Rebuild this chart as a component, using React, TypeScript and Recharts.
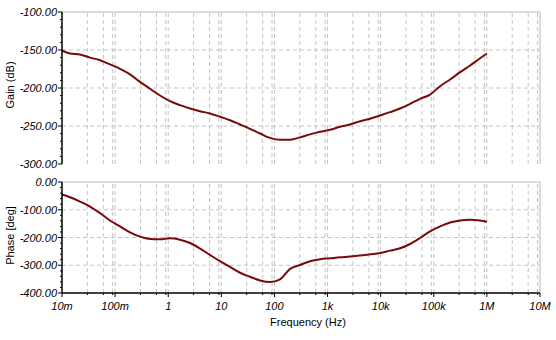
import React from 'react';
import { LineChart, Line, XAxis, YAxis, ReferenceLine, Label } from 'recharts';

// Frequency points (Hz)
const freqHz = [
  0.01, 0.0142, 0.0218, 0.0337, 0.052, 0.0802, 0.124, 0.191, 0.294, 0.454,
  0.701, 1.08, 1.67, 2.57, 3.97, 6.12, 9.46, 14.6, 22.5, 34.7,
  53.6, 82.6, 127, 197, 303, 468, 722, 1114, 1718, 2652,
  4092, 6313, 9741, 15030, 23190, 35780, 55200, 85170, 131400, 202800,
  312900, 482800, 744900, 1000000,
];

const gainDb = [
  -150.7, -154.6, -155.9, -160, -163.4, -169, -174.8, -182, -191.9, -201,
  -209.9, -217.3, -222.6, -227, -230.5, -233.6, -237.9, -242.4, -248, -253.7,
  -259.9, -265.6, -268.2, -268, -265, -261, -257.6, -255, -251, -248,
  -243.7, -240.5, -236.2, -231.8, -227, -220.8, -214.2, -208.6, -197.6, -188.8,
  -179.2, -170.4, -160.8, -154.6,
];

const phaseDeg = [
  -44.8, -55, -70.5, -88.4, -112, -138.6, -160, -181.6, -197, -205.5,
  -206.7, -203, -207.9, -219.8, -240, -262.9, -285.5, -306, -327, -341.6,
  -354.8, -360.8, -351, -313, -299, -285.5, -278.4, -275, -271.4, -268.8,
  -265.2, -260.5, -255.7, -247.3, -239, -223.4, -201.8, -178, -160, -145.8,
  -138.6, -136.1, -138.6, -143.4,
];

// Axis ticks
const decadeTicks = [0.01, 0.1, 1, 10, 100, 1000, 10000, 100000, 1000000, 10000000];
const decadeLabels = ['10m', '100m', '1', '10', '100', '1k', '10k', '100k', '1M', '10M'];
const minorMultipliers = [3, 6, 9];

const gainDomain = [-300, -100];
const gainMajor = [-300, -250, -200, -150, -100];
const gainMinorStep = 10;

const phaseDomain = [-400, 0];
const phaseMajor = [-400, -300, -200, -100, 0];
const phaseMinorStep = 20;

const data = freqHz.map((f, i) => ({ f, gain: gainDb[i], phase: phaseDeg[i] }));

const minorX: number[] = [];
decadeTicks.slice(0, -1).forEach((d) => minorMultipliers.forEach((m) => minorX.push(+(d * m).toPrecision(6))));
const allXTicks = [...decadeTicks, ...minorX].sort((a, b) => a - b);
const vGrid = [...minorX, ...decadeTicks.slice(1, -1)];

const range = (lo: number, hi: number, step: number) => {
  const out: number[] = [];
  for (let v = lo; v <= hi + 1e-9; v += step) out.push(v);
  return out;
};

const FONT = '"Liberation Sans", Arial, sans-serif';
const GRID = '#c4c4c4';
const LINE = '#780a0a';

const XTick = (props: any) => {
  const { x, y, payload } = props;
  const idx = decadeTicks.indexOf(payload.value);
  const major = idx >= 0;
  return (
    <g>
      <line x1={x} x2={x} y1={y} y2={y + (major ? 4 : 2)} stroke="#000" />
      {major && (
        <text x={x} y={y + 16.5} textAnchor="middle" fontStyle="italic" fontSize={11} fontFamily={FONT} fill="#000">
          {decadeLabels[idx]}
        </text>
      )}
    </g>
  );
};

const makeYTick = (majors: number[]) => (props: any) => {
  const { x, y, payload } = props;
  const v = payload.value;
  const major = majors.includes(v);
  return (
    <g>
      <line x1={x - (major ? 4 : 2)} x2={x} y1={y} y2={y} stroke="#000" />
      {major && (
        <text x={x - 5} y={y + 4} textAnchor="end" fontStyle="italic" fontSize={11} fontFamily={FONT} fill="#000">
          {v.toFixed(2)}
        </text>
      )}
    </g>
  );
};

const GainTick = makeYTick(gainMajor);
const PhaseTick = makeYTick(phaseMajor);

const axisTitle = (text: string, cx: number, cy: number) => () => (
  <text
    x={cx}
    y={cy}
    transform={`rotate(-90, ${cx}, ${cy})`}
    textAnchor="middle"
    dominantBaseline="central"
    fontSize={11}
    fontFamily={FONT}
    fill="#000"
  >
    {text}
  </text>
);

const gridLines = (hValues: number[], topValue: number) => (
  <>
    {vGrid.map((v) => (
      <ReferenceLine key={'v' + v} x={v} stroke={GRID} strokeDasharray="4 3" ifOverflow="visible" />
    ))}
    {hValues.map((v) => (
      <ReferenceLine key={'h' + v} y={v} stroke={GRID} strokeDasharray="4 3" ifOverflow="visible" />
    ))}
    <ReferenceLine y={topValue} stroke="#b8b8b8" ifOverflow="visible" />
    <ReferenceLine x={decadeTicks[decadeTicks.length - 1]} stroke="#b8b8b8" ifOverflow="visible" />
  </>
);

export default function App() {
  return (
    <div style={{ position: 'absolute', left: 0, top: 0, width: 556, height: 340, background: '#fff' }}>
      <div style={{ position: 'absolute', left: 0, top: 0 }}>
        <LineChart width={556} height={172} data={data} margin={{ top: 12, right: 16, bottom: 8, left: 0 }}>
          {gridLines([-250, -200, -150], -100)}
          <XAxis
            dataKey="f"
            type="number"
            scale="log"
            domain={[decadeTicks[0], decadeTicks[decadeTicks.length - 1]]}
            allowDataOverflow
            ticks={decadeTicks}
            tick={false}
            tickLine={false}
            height={0}
            axisLine={{ stroke: '#000', strokeWidth: 1.5 }}
          />
          <YAxis
            type="number"
            domain={gainDomain}
            ticks={range(gainDomain[0], gainDomain[1], gainMinorStep)}
            interval={0}
            width={62}
            tickLine={false}
            tickSize={0}
            tickMargin={0}
            tick={<GainTick />}
            axisLine={{ stroke: '#000', strokeWidth: 1.5 }}
            allowDataOverflow
          >
            <Label content={axisTitle('Gain (dB)', 10, 85)} />
          </YAxis>
          <Line dataKey="gain" stroke={LINE} strokeWidth={2} dot={false} type="monotone" isAnimationActive={false} />
        </LineChart>
      </div>
      <div style={{ position: 'absolute', left: 0, top: 170 }}>
        <LineChart width={556} height={170} data={data} margin={{ top: 12, right: 16, bottom: 0, left: 0 }}>
          {gridLines([-300, -200, -100], 0)}
          <XAxis
            dataKey="f"
            type="number"
            scale="log"
            domain={[decadeTicks[0], decadeTicks[decadeTicks.length - 1]]}
            allowDataOverflow
            ticks={allXTicks}
            interval={0}
            tickLine={false}
            tickSize={0}
            tickMargin={0}
            tick={<XTick />}
            height={47}
            axisLine={{ stroke: '#000', strokeWidth: 1.5 }}
          >
            <Label
              content={(p: any) => {
                const vb = p.viewBox || { x: 62, width: 478, y: 123 };
                return (
                  <text x={vb.x + vb.width / 2 + 7} y={156} textAnchor="middle" fontSize={11} fontFamily={FONT} fill="#000">
                    Frequency (Hz)
                  </text>
                );
              }}
            />
          </XAxis>
          <YAxis
            type="number"
            domain={phaseDomain}
            ticks={range(phaseDomain[0], phaseDomain[1], phaseMinorStep)}
            interval={0}
            width={62}
            tickLine={false}
            tickSize={0}
            tickMargin={0}
            tick={<PhaseTick />}
            axisLine={{ stroke: '#000', strokeWidth: 1.5 }}
            allowDataOverflow
          >
            <Label content={axisTitle('Phase [deg]', 10, 65.5)} />
          </YAxis>
          <Line dataKey="phase" stroke={LINE} strokeWidth={2} dot={false} type="monotone" isAnimationActive={false} />
        </LineChart>
      </div>
    </div>
  );
}
